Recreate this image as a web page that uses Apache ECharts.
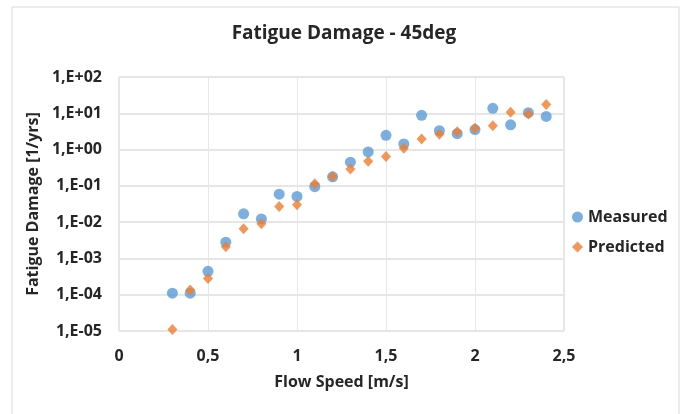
<!DOCTYPE html>
<html><head><meta charset="utf-8">
<script src="https://cdn.jsdelivr.net/npm/echarts@6/dist/echarts.min.js"></script>
<style>html,body{margin:0;padding:0;background:#fff}#c{width:688px;height:414px}</style>
</head><body><div id="c"></div>
<script>
var speeds = [0.3,0.4,0.5,0.6,0.7,0.8,0.9,1.0,1.1,1.2,1.3,1.4,1.5,1.6,1.7,1.8,1.9,2.0,2.1,2.2,2.3,2.4];
var measured = [1.1e-4,1.1e-4,4.4e-4,2.8e-3,1.7e-2,1.23e-2,5.9e-2,5.1e-2,9.5e-2,0.178,0.45,0.86,2.47,1.43,8.8,3.3,2.75,3.55,13.7,4.8,10.4,8.2];
var predicted = [1.1e-5,1.34e-4,2.8e-4,2.1e-3,6.6e-3,9e-3,2.7e-2,3.0e-2,0.115,0.18,0.29,0.48,0.64,1.08,1.96,2.63,3.1,3.85,4.57,10.6,9.6,17.6];
var xTicks = [0,0.5,1,1.5,2,2.5];
var title = 'Fatigue Damage - 45deg';
var font = '"Open Sans", Lato, sans-serif';
function pairs(xs, ys){return xs.map(function(x,i){return [x, ys[i]];});}
var chart = echarts.init(document.getElementById('c'), null, {renderer:'canvas'});
chart.setOption({
  animation:false,
  graphic:[{type:'rect',shape:{x:12,y:7,width:667,height:420},style:{fill:'none',stroke:'#d9d9d9',lineWidth:1},silent:true}],
  title:{text:title,left:'center',top:19,textStyle:{fontFamily:font,fontSize:19,fontWeight:'bold',color:'#262626'}},
  grid:{left:119,right:124,top:77,bottom:83,show:true,borderColor:'#d0d0d0',borderWidth:1},
  legend:{orient:'vertical',left:567,top:204,itemGap:14,itemWidth:11,itemHeight:11,
    textStyle:{fontFamily:font,fontSize:16,fontWeight:'bold',color:'#262626'},
    data:[{name:'Measured',icon:'circle'},{name:'Predicted',icon:'diamond'}]},
  xAxis:{type:'value',min:0,max:2.5,interval:0.5,
    name:'Flow Speed [m/s]',nameLocation:'middle',nameGap:43,
    nameTextStyle:{fontFamily:font,fontSize:16,fontWeight:'bold',color:'#262626'},
    axisLine:{show:false},axisTick:{show:false},
    axisLabel:{fontFamily:font,fontSize:16,fontWeight:'bold',color:'#262626',margin:17,
      formatter:function(v){return String(v).replace('.',',');}},
    splitLine:{show:true,lineStyle:{color:'#e6e6e6',width:1}}},
  yAxis:{type:'log',logBase:10,min:1e-5,max:100,
    name:'Fatigue Damage [1/yrs]',nameLocation:'middle',nameGap:76,nameRotate:90,
    nameTextStyle:{fontFamily:font,fontSize:16,fontWeight:'bold',color:'#262626'},
    axisLine:{show:false},axisTick:{show:false},
    axisLabel:{fontFamily:font,fontSize:16,fontWeight:'bold',color:'#262626',margin:17,
      formatter:function(v){var e=Math.round(Math.log10(v));var s=e<0?'-':'+';var a=Math.abs(e);return '1,E'+s+(a<10?'0':'')+a;}},
    splitLine:{show:true,lineStyle:{color:'#e6e6e6',width:2}}},
  series:[
    {name:'Measured',type:'scatter',symbol:'circle',symbolSize:11,itemStyle:{color:'#5B9BD5'},data:pairs(speeds,measured)},
    {name:'Predicted',type:'scatter',symbol:'diamond',symbolSize:[10,11],itemStyle:{color:'#ED7D31'},data:pairs(speeds,predicted)}
  ]
});
</script></body></html>
